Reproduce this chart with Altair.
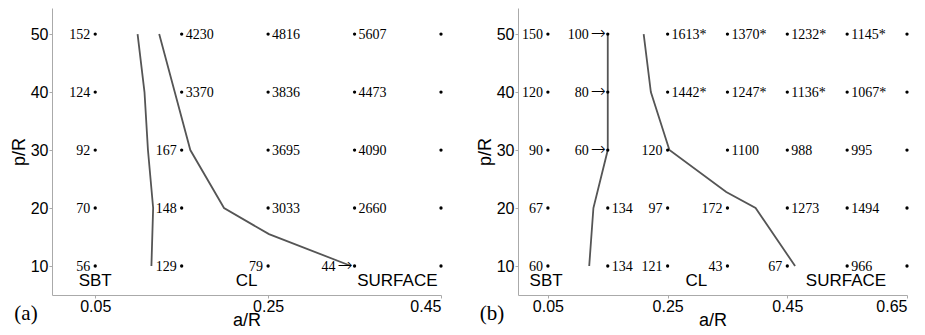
import altair as alt
import pandas as pd

# ---------------- data ----------------
P_LEVELS = [50, 40, 30, 20, 10]

# panel (a)
A_COLS = [0.05, 0.15, 0.25, 0.35, 0.45]
A_TEXT = [
    ["152", "4230", "4816", "5607", ""],
    ["124", "3370", "3836", "4473", ""],
    ["92", "167", "3695", "4090", ""],
    ["70", "148", "3033", "2660", ""],
    ["56", "129", "79", "44\u2192", ""],
]
A_SIDE = [
    ["L", "R", "R", "R", ""],
    ["L", "R", "R", "R", ""],
    ["L", "L", "R", "R", ""],
    ["L", "L", "R", "R", ""],
    ["L", "L", "L", "A", ""],
]
A_LINE1_X = [0.099, 0.107, 0.111, 0.117, 0.115]
A_LINE1_P = [50, 40, 30, 20, 10]
A_LINE2_X = [0.124, 0.142, 0.160, 0.199, 0.251, 0.346]
A_LINE2_P = [50, 40, 30, 20, 15.5, 10]
A_REGION_X = [0.05, 0.225, 0.3995]
A_XTICKS = [0.05, 0.25, 0.45]

# panel (b)
B_COLS = [0.05, 0.15, 0.25, 0.35, 0.45, 0.55, 0.65]
B_TEXT = [
    ["150", "100\u2192", "1613*", "1370*", "1232*", "1145*", ""],
    ["120", "80\u2192", "1442*", "1247*", "1136*", "1067*", ""],
    ["90", "60\u2192", "120", "1100", "988", "995", ""],
    ["67", "134", "97", "172", "1273", "1494", ""],
    ["60", "134", "121", "43", "67", "966", ""],
]
B_SIDE = [
    ["L", "A", "R", "R", "R", "R", ""],
    ["L", "A", "R", "R", "R", "R", ""],
    ["L", "A", "L", "R", "R", "R", ""],
    ["L", "R", "L", "L", "R", "R", ""],
    ["L", "R", "L", "L", "L", "R", ""],
]
B_LINE1_X = [0.15, 0.15, 0.15, 0.126, 0.119]
B_LINE1_P = [50, 40, 30, 20, 10]
B_LINE2_X = [0.210, 0.222, 0.253, 0.348, 0.397, 0.463]
B_LINE2_P = [50, 40, 30, 22.75, 20, 10]
B_REGION_X = [0.047, 0.298, 0.548]
B_XTICKS = [0.05, 0.25, 0.45, 0.65]

REGION_TEXT = ["SBT", "CL", "SURFACE"]
REGION_P = 7.4
P_TICKS = [10, 20, 30, 40, 50]

W, H = 389, 287
Y_DOMAIN = [5, 54.5]
SANS = "Liberation Sans"
SERIF = "Liberation Serif"
ARROW_FONT = "DejaVu Sans"
LINE_COLOR = "#555555"


def panel(cols, texts, sides, l1x, l1p, l2x, l2p, region_x, xticks, xmax, tag):
    pts = []
    for r, p in enumerate(P_LEVELS):
        for c, x in enumerate(cols):
            pts.append({"x": x, "p": p, "t": texts[r][c], "s": sides[r][c]})
    df = pd.DataFrame(pts)

    lines = pd.DataFrame(
        [{"x": x, "p": p, "line": "1", "i": i} for i, (x, p) in enumerate(zip(l1x, l1p))]
        + [{"x": x, "p": p, "line": "2", "i": i} for i, (x, p) in enumerate(zip(l2x, l2p))]
    )
    regions = pd.DataFrame({"x": region_x, "p": [REGION_P] * 3, "t": REGION_TEXT})

    xs = alt.Scale(domain=[0, xmax], nice=False, zero=False)
    ys = alt.Scale(domain=Y_DOMAIN, nice=False, zero=False)
    xenc = alt.X(
        "x:Q", scale=xs,
        axis=alt.Axis(values=xticks, format=".2f", title="a/R", titlePadding=-3, labelPadding=0),
    )
    yenc = alt.Y(
        "p:Q", scale=ys,
        axis=alt.Axis(values=P_TICKS, title="p/R", titlePadding=2, labelPadding=1),
    )

    line_layer = alt.Chart(lines).mark_line(color=LINE_COLOR, strokeWidth=1.8).encode(
        x=xenc, y=yenc, detail="line:N", order="i:Q"
    )
    dots = alt.Chart(df).mark_circle(color="black", size=11, opacity=1).encode(x="x:Q", y="p:Q")

    base_txt = alt.Chart(df)
    left = base_txt.transform_filter(alt.datum.s == "L").mark_text(
        align="right", baseline="middle", dx=-5, dy=1, font=SERIF, fontSize=14, color="black"
    ).encode(x="x:Q", y="p:Q", text="t:N")
    # numbers followed by an arrow pointing at the dot
    arrow_num = base_txt.transform_filter(alt.datum.s == "A").transform_calculate(
        num="replace(datum.t, '\u2192', '')"
    ).mark_text(
        align="right", baseline="middle", dx=-19, dy=1, font=SERIF, fontSize=14, color="black"
    ).encode(x="x:Q", y="p:Q", text="num:N")
    arrow_glyph = base_txt.transform_filter(alt.datum.s == "A").transform_calculate(
        arr="'\u2192'"
    ).mark_text(
        align="right", baseline="middle", dx=-2, dy=0, font=ARROW_FONT, fontSize=18,
        fontWeight=300, color="black"
    ).encode(x="x:Q", y="p:Q", text="arr:N")
    right = base_txt.transform_filter(alt.datum.s == "R").mark_text(
        align="left", baseline="middle", dx=4, dy=1, font=SERIF, fontSize=14, color="black"
    ).encode(x="x:Q", y="p:Q", text="t:N")

    reg = alt.Chart(regions).mark_text(
        align="center", baseline="middle", font=SANS, fontSize=17, color="black"
    ).encode(x="x:Q", y="p:Q", text="t:N")

    tag_layer = alt.Chart(pd.DataFrame({"t": [tag]})).mark_text(
        align="center", baseline="middle", font=SERIF, fontSize=21, color="black"
    ).encode(x=alt.value(-26), y=alt.value(H + 19), text="t:N")

    return alt.layer(line_layer, dots, left, arrow_num, arrow_glyph, right, reg, tag_layer).properties(
        width=W, height=H
    )


pa = panel(A_COLS, A_TEXT, A_SIDE, A_LINE1_X, A_LINE1_P, A_LINE2_X, A_LINE2_P,
           A_REGION_X, A_XTICKS, 0.45, "(a)")
pb = panel(B_COLS, B_TEXT, B_SIDE, B_LINE1_X, B_LINE1_P, B_LINE2_X, B_LINE2_P,
           B_REGION_X, B_XTICKS, 0.65, "(b)")

chart = alt.hconcat(pa, pb, spacing=77, bounds="flush").properties(
    padding={"left": 2, "top": 0, "right": 0, "bottom": 0}
).configure_view(stroke=None).configure_axis(
    grid=False,
    domainColor="#aaaaaa",
    tickColor="#aaaaaa",
    tickSize=3,
    labelFont=SANS,
    labelFontSize=16,
    labelColor="black",
    titleFont=SANS,
    titleFontSize=18,
    titleFontWeight="normal",
    titleColor="black",
)

chart.save("out.html", embed_options={"renderer": "svg", "actions": False})
